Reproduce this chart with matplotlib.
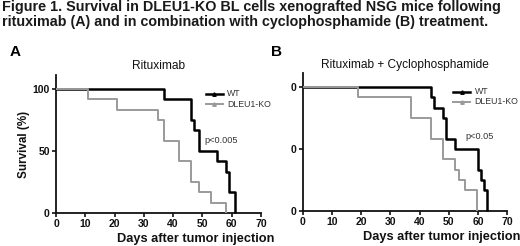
import numpy as np
import matplotlib
matplotlib.use('Agg')
import matplotlib.pyplot as plt

# Kaplan-Meier steps (day, survival %)
ritux_wt_days = [0, 37, 46, 47, 49, 55, 58, 59, 61]
ritux_wt_surv = [100, 92, 75, 67, 50, 42, 33, 17, 0]
ritux_ko_days = [0, 11, 21, 35, 37, 42, 46, 49, 53, 58]
ritux_ko_surv = [100, 92, 83, 75, 58, 42, 25, 17, 8, 0]

combo_wt_days = [0, 44, 45, 48, 49, 52, 60, 61, 62, 63]
combo_wt_surv = [100, 92, 83, 75, 58, 50, 33, 25, 17, 0]
combo_ko_days = [0, 19, 37, 44, 48, 52, 53.5, 55.5, 59.5]
combo_ko_surv = [100, 92, 75, 58, 42, 33, 25, 17, 0]

xticks = [0, 10, 20, 30, 40, 50, 60, 70]
yticks = [0, 50, 100]

FONT = ['Liberation Sans', 'DejaVu Sans']
GRAY = '#9a9a9a'


def km_plot(ax, days, surv, color, lw):
    ax.step(days, surv, where='post', color=color, lw=lw, solid_capstyle='butt',
            clip_on=False, zorder=3)


def style_axes(ax, ylabels):
    ax.set_xlim(0, 70)
    ax.set_ylim(0, 111)
    for s in ['top', 'right']:
        ax.spines[s].set_visible(False)
    for s in ['left', 'bottom']:
        ax.spines[s].set_linewidth(1.3)
        ax.spines[s].set_color('#111111')
    ax.set_xticks(xticks)
    ax.set_yticks(yticks)
    ax.set_yticklabels(ylabels)
    ax.tick_params(direction='out', length=3, width=1.2, pad=1.5,
                   labelsize=7.5, colors='#111111')
    for lab in ax.get_xticklabels() + ax.get_yticklabels():
        lab.set_fontweight('bold')
        lab.set_family(FONT)
    ax.set_xlabel('Days after tumor injection', fontsize=9.2, fontweight='bold',
                  family=FONT, color='#111111')
    ax.xaxis.set_label_coords(0.68, -0.145)


def legend(ax, x0, y0):
    # hand drawn GraphPad style legend in axes fraction
    for i, (col, lw, name) in enumerate([('black', 1.8, 'WT'),
                                         (GRAY, 1.4, 'DLEU1-KO')]):
        yy = y0 - i * 0.075
        ax.plot([x0, x0 + 0.085], [yy, yy], transform=ax.transAxes,
                color=col, lw=lw, clip_on=False)
        ax.plot([x0 + 0.0425], [yy], transform=ax.transAxes, marker='^',
                ms=2.5, color=col, clip_on=False)
        ax.text(x0 + 0.105, yy, name, transform=ax.transAxes, fontsize=6.3,
                va='center', ha='left', color='#333333', family=FONT)


def main():
    fig = plt.figure(figsize=(5.2, 2.46), dpi=100)
    fig.text(0.003, 0.970, 'Figure 1. Survival in DLEU1-KO BL cells xenografted NSG mice following',
             fontsize=10.4, fontweight='bold', family=FONT, va='center', color='#1a1a1a')
    fig.text(0.003, 0.912, 'rituximab (A) and in combination with cyclophosphamide (B) treatment.',
             fontsize=10.3, fontweight='bold', family=FONT, va='center', color='#1a1a1a')
    fig.text(0.018, 0.788, 'A', fontsize=11, fontweight='bold', family=FONT, va='center')
    fig.text(0.522, 0.788, 'B', fontsize=11, fontweight='bold', family=FONT, va='center')

    ax1 = fig.add_axes([0.1077, 0.134, 0.394, 0.561])
    km_plot(ax1, ritux_wt_days, ritux_wt_surv, 'black', 1.8)
    km_plot(ax1, ritux_ko_days, ritux_ko_surv, GRAY, 1.4)
    style_axes(ax1, ['0', '50', '100'])
    ax1.set_ylabel('Survival (%)', fontsize=8.4, fontweight='bold', family=FONT,
                   color='#111111', labelpad=2)
    ax1.set_title('Rituximab', fontsize=8.6, family=FONT, pad=4, color='#111111')
    ax1.text(50.8, 58, 'p<0.005', fontsize=6.6, family=FONT, va='center', color='#333333')
    legend(ax1, 0.73, 0.865)

    ax2 = fig.add_axes([0.582, 0.1435, 0.3935, 0.5595])
    km_plot(ax2, combo_wt_days, combo_wt_surv, 'black', 1.8)
    km_plot(ax2, combo_ko_days, combo_ko_surv, GRAY, 1.4)
    style_axes(ax2, ['0', '0', '0'])
    ax2.set_title('Rituximab + Cyclophosphamide', fontsize=8.6, family=FONT, pad=4,
                  color='#111111')
    ax2.text(55.6, 60, 'p<0.05', fontsize=6.6, family=FONT, va='center', color='#333333')
    legend(ax2, 0.735, 0.865)

    fig.savefig('out.png', dpi=100)


if __name__ == "__main__":
    main()
